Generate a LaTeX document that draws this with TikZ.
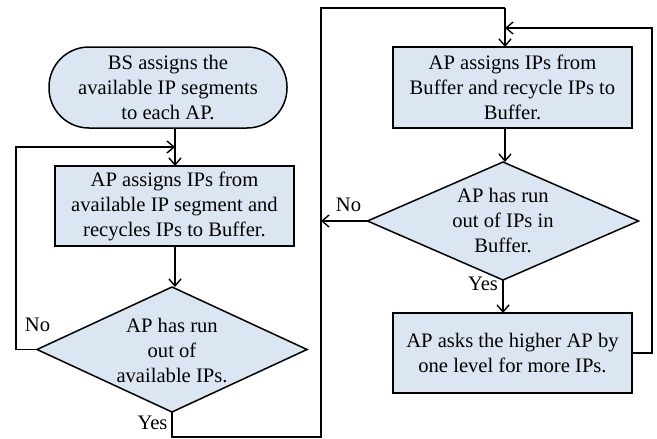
\documentclass[tikz,border=0pt]{standalone}
\usepackage{fontspec}
\setmainfont{Liberation Serif}
\usetikzlibrary{arrows.meta,shapes.geometric,calc}
\definecolor{boxfill}{HTML}{DCE6F2}
\begin{document}
\begin{tikzpicture}[x=1pt,y=-1pt,
  font=\fontsize{20.6}{25}\selectfont,
  every node/.style={inner sep=0pt,outer sep=0pt},
  stepbox/.style={draw,line width=1.5pt,fill=boxfill,rectangle,
    minimum width=239pt,minimum height=80pt,align=center},
  termbox/.style={draw,line width=1.5pt,fill=boxfill,rectangle,
    rounded corners=40pt,minimum width=238pt,minimum height=81pt,align=center},
  decide/.style={draw,line width=1.5pt,fill=boxfill,diamond},
  txt/.style={align=center},
  flow/.style={line width=1.4pt,-{Straight Barb[length=7pt,width=12pt,line width=1.4pt]}},
  wire/.style={line width=1.4pt}]
\useasboundingbox (0,0) rectangle (657,439);

% left column
\node[termbox] (start) at (168,87.5) {BS assigns the\\available IP segments\\to each AP.};
\node[stepbox] (b1) at (174.5,206) {AP assigns IPs from\\available IP segment and\\recycles IPs to Buffer.};
\node[decide,minimum width=270pt,minimum height=125pt] (d1) at (172,349.5) {};
\node[txt] (t1) at (172,350) {AP has run\\out of\\available IPs.};

% right column
\node[stepbox,minimum height=81pt] (b2) at (512.5,87.5) {AP assigns IPs from\\Buffer and recycle IPs to\\Buffer.};
\node[decide,minimum width=271pt,minimum height=118pt] (d2) at (503,221) {};
\node[txt] (t2) at (503,220) {AP has run\\out of IPs in\\Buffer.};
\node[stepbox] (b3) at (512.5,353) {AP asks the higher AP by\\one level for more IPs.};

% branch labels
\node (no1) at (37.5,325) {No};
\node (yes1) at (152.5,423) {Yes};
\node (no2) at (348.5,205) {No};
\node (yes2) at (483,284) {Yes};

% helper points of the routed lines
\coordinate (c1) at (16,147);
\coordinate (c2) at (321,437);
\coordinate (c3) at (321,8);
\coordinate (c4) at (652,28);
\coordinate (m1) at (175,147);
\coordinate (m2) at (505,8);
\coordinate (m3) at (505,28);

% connectors
\draw[flow] (start.south -| m1) -- (b1.north -| m1);
\draw[flow] (d1.west) -| (c1) -- (m1);
\draw[flow] (b1.south -| m1) -- (d1.north -| m1);
\draw[wire] (d1.south) |- (c2) -- (c3) -- (m2);
\draw[flow] (m2) -- (b2.north -| m2);
\draw[flow] (b2.south -| m2) -- (d2.north -| m2);
\draw[flow] (d2.west) -- (d2.west -| c2);
\draw[flow] (d2.south) -- (b3.north -| d2.south);
\draw[flow] (b3.east) -| (c4) -- (m3);
\end{tikzpicture}
\end{document}
